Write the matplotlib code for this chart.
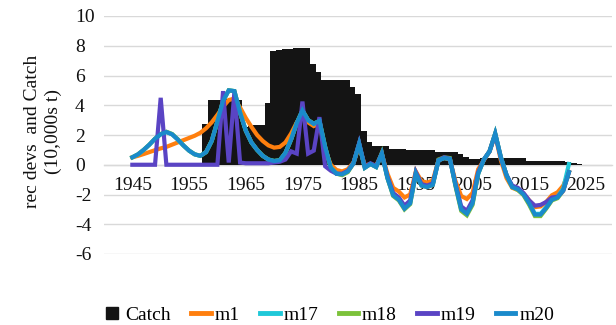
import matplotlib
matplotlib.use("Agg")
import matplotlib.pyplot as plt
from matplotlib.lines import Line2D
import numpy as np

plt.rcParams['font.family'] = ['Liberation Serif', 'DejaVu Serif']

years = list(range(1945, 2023))

m1 = [0.5, 0.6, 0.72, 0.85, 0.98, 1.1, 1.2, 1.35, 1.5, 1.65,
      1.8, 1.95, 2.15, 2.45, 2.85, 3.35, 3.9, 4.35, 4.45, 3.85,
      3.15, 2.55, 2.0, 1.6, 1.3, 1.15, 1.2, 1.5, 2.1, 2.85,
      3.3, 2.85, 2.6, 2.75, 1.0, 0.0, -0.35, -0.45, -0.3, 0.15,
      1.25, -0.05, 0.05, -0.05, 0.7, -0.6, -1.55, -1.8, -2.2, -2.0,
      -0.45, -1.1, -1.2, -1.05, 0.3, 0.45, 0.35, -1.1, -2.1, -2.3,
      -1.9, -0.3, 0.3, 0.9, 2.0, 0.3, -0.9, -1.55, -1.7, -1.95,
      -2.4, -2.85, -2.8, -2.5, -2.05, -1.85, -1.4, -0.5]

m20 = [0.5, 0.7, 1.0, 1.35, 1.75, 2.05, 2.2, 2.05, 1.7, 1.3,
       0.95, 0.7, 0.6, 0.85, 1.6, 2.9, 4.3, 5.0, 4.95, 3.5,
       2.3, 1.5, 1.0, 0.6, 0.35, 0.25, 0.3, 0.8, 1.7, 2.8,
       3.65, 3.0, 2.75, 2.95, 1.2, -0.2, -0.6, -0.65, -0.45, 0.1,
       1.4, -0.2, 0.05, -0.15, 0.75, -0.9, -2.05, -2.35, -2.95, -2.6,
       -0.6, -1.4, -1.5, -1.35, 0.3, 0.45, 0.4, -1.4, -3.0, -3.3,
       -2.6, -0.6, 0.35, 0.9, 2.1, 0.5, -0.7, -1.5, -1.65, -2.0,
       -2.6, -3.35, -3.35, -2.9, -2.35, -2.2, -1.7, -0.5]

m17 = [0.5, 0.7, 1.0, 1.35, 1.75, 2.05, 2.2, 2.05, 1.7, 1.3,
       0.95, 0.7, 0.6, 0.85, 1.6, 2.9, 4.3, 5.0, 4.95, 3.5,
       2.3, 1.5, 1.0, 0.6, 0.35, 0.25, 0.3, 0.8, 1.7, 2.8,
       3.65, 3.0, 2.75, 2.95, 1.2, -0.2, -0.6, -0.65, -0.45, 0.1,
       1.4, -0.2, 0.05, -0.15, 0.75, -0.9, -2.0, -2.3, -2.9, -2.55,
       -0.6, -1.35, -1.45, -1.3, 0.3, 0.45, 0.4, -1.35, -2.95, -3.25,
       -2.55, -0.6, 0.35, 0.9, 2.1, 0.5, -0.7, -1.5, -1.65, -2.0,
       -2.6, -3.3, -3.3, -2.85, -2.3, -2.15, -1.6, 0.05]

m18 = [0.5, 0.7, 1.0, 1.35, 1.75, 2.07, 2.22, 2.07, 1.72, 1.3,
       0.95, 0.7, 0.6, 0.85, 1.6, 2.9, 4.3, 5.0, 4.95, 3.5,
       2.3, 1.5, 1.0, 0.6, 0.35, 0.25, 0.3, 0.8, 1.7, 2.8,
       3.65, 3.0, 2.75, 2.95, 1.2, -0.2, -0.6, -0.7, -0.5, 0.1,
       1.4, -0.2, 0.05, -0.15, 0.8, -0.9, -2.1, -2.4, -3.0, -2.65,
       -0.55, -1.4, -1.5, -1.35, 0.35, 0.5, 0.45, -1.45, -3.1, -3.4,
       -2.7, -0.6, 0.35, 0.9, 2.1, 0.5, -0.7, -1.5, -1.7, -2.05,
       -2.7, -3.45, -3.45, -2.95, -2.4, -2.25, -1.75, -0.5]

m19 = [0.0, 0.0, 0.0, 0.0, 0.0, 4.5, 0.0, 0.0, 0.0, 0.0,
       0.0, 0.0, 0.0, 0.0, 0.0, 0.0, 4.95, 0.15, 4.9, 0.15,
       0.1, 0.1, 0.1, 0.1, 0.1, 0.15, 0.2, 0.35, 0.9, 0.75,
       4.25, 0.75, 0.95, 3.2, -0.1, -0.4, -0.6, -0.6, -0.4, 0.1,
       1.45, -0.15, 0.1, -0.1, 0.75, -0.8, -1.9, -2.2, -2.75, -2.4,
       -0.5, -1.3, -1.4, -1.25, 0.3, 0.5, 0.4, -1.3, -2.8, -3.1,
       -2.4, -0.5, 0.35, 0.9, 2.05, 0.45, -0.7, -1.4, -1.55, -1.9,
       -2.4, -2.75, -2.7, -2.5, -2.2, -2.15, -1.75, -0.5]

catch_years = list(range(1958, 2025))
catch = [2.76, 4.33, 4.38, 4.38, 4.4, 4.4, 4.35, 2.55, 2.6, 2.65,
         2.7, 4.18, 7.66, 7.7, 7.8, 7.8, 7.82, 7.82, 7.82, 6.78,
         6.25, 5.68, 5.68, 5.68, 5.68, 5.68, 5.21, 4.75, 2.28, 1.5,
         1.28, 1.27, 1.25, 1.08, 1.06, 1.04, 1.02, 1.0, 0.99, 0.98,
         0.96, 0.86, 0.85, 0.84, 0.83, 0.69, 0.52, 0.36, 0.36, 0.47,
         0.48, 0.48, 0.48, 0.47, 0.47, 0.46, 0.46, 0.28, 0.28, 0.28,
         0.27, 0.27, 0.26, 0.25, 0.18, 0.12, 0.07]

series_names = ['m1', 'm17', 'm18', 'm19', 'm20']
series_colors = ['#FF7F0E', '#1FC8D8', '#7CC23A', '#5A44C4', '#1A8ACB']
tick_years = list(range(1945, 2026, 10))
y_ticks = [-6, -4, -2, 0, 2, 4, 6, 8, 10]

W, H = 616, 325
fig = plt.figure(figsize=(W / 100, H / 100), dpi=100)
ax = fig.add_axes([104 / W, 1 - 254 / H, (612 - 104) / W, (254 - 16) / H])

ax.bar(np.array(catch_years) - 0.15, catch, width=1.0, color='#141414',
       linewidth=0, zorder=2)

for vals, col in zip([m1, m17, m18, m19, m20], series_colors):
    ax.plot(years, vals, color=col, lw=3.0, solid_joinstyle='miter',
            zorder=3)

ax.set_xlim(1940, 2029.6)
ax.set_ylim(-6, 10)
ax.set_yticks(y_ticks)
ax.set_yticklabels([str(v) for v in y_ticks])
ax.set_xticks(tick_years)
ax.set_xticklabels([str(v) for v in tick_years])
ax.grid(axis='y', color='#D9D9D9', lw=1.0, zorder=0)
ax.set_axisbelow(True)
for s in ['top', 'right', 'left']:
    ax.spines[s].set_visible(False)
ax.spines['bottom'].set_position(('data', 0))
ax.spines['bottom'].set_color('#D9D9D9')
ax.spines['bottom'].set_linewidth(1.0)
ax.spines['bottom'].set_zorder(1)
ax.tick_params(axis='x', length=0, pad=9, labelsize=14, colors='#111111')
ax.tick_params(axis='y', length=0, pad=21, labelsize=14, colors='#111111')
for lab in ax.get_yticklabels():
    lab.set_ha('left')

fig.text(43 / W, 1 - 131 / H, 'rec devs  and Catch\n(10,000s t)',
         rotation=90, ha='center', va='center', multialignment='center',
         fontsize=14, linespacing=1.3, color='#111111')

handles = [Line2D([], [], marker='s', color='#141414', linestyle='none',
                  markersize=9)]
handles += [Line2D([], [], color=c, lw=3.5) for c in series_colors]
labels = ['Catch'] + series_names
fig.legend(handles, labels, loc='center', bbox_to_anchor=(328 / W, 1 - 315 / H),
           ncol=6, frameon=False, fontsize=14, handlelength=1.0,
           handletextpad=0.2, columnspacing=1.05, borderaxespad=0,
           borderpad=0)

fig.savefig('out.png', dpi=100)
